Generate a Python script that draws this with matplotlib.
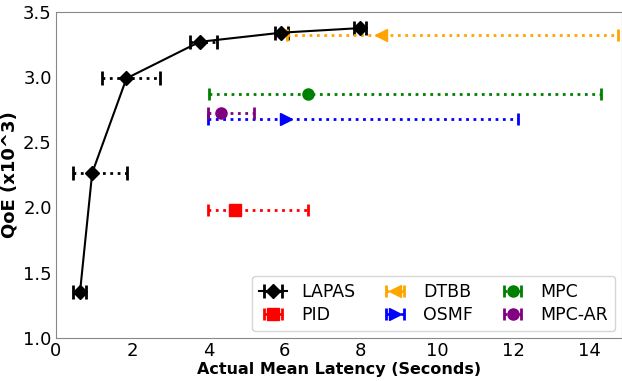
import matplotlib
matplotlib.use("Agg")
import matplotlib.pyplot as plt

lapas_x = [0.63, 0.95, 1.85, 3.77, 5.91, 7.97]
lapas_y = [1.35, 2.265, 2.99, 3.27, 3.34, 3.375]
lapas_lo = [0.45, 0.45, 1.21, 3.51, 5.75, 7.81]
lapas_hi = [0.79, 1.87, 2.74, 4.22, 6.09, 8.13]

others = ["PID", "DTBB", "OSMF", "MPC", "MPC-AR"]
others_x = [4.7, 8.52, 6.04, 6.6, 4.33]
others_y = [1.98, 3.32, 2.68, 2.87, 2.725]
others_lo = [4.0, 6.05, 4.0, 4.01, 4.0]
others_hi = [6.6, 14.75, 12.11, 14.3, 5.2]
colors = ["red", "orange", "blue", "green", "purple"]
markers = ["s", "<", ">", "o", "o"]

fig = plt.figure(figsize=(6.22, 3.81), dpi=100)
ax = fig.add_axes([0.09, 0.113, 0.91, 0.856])

handles = {}
xe = [[x - l for x, l in zip(lapas_x, lapas_lo)], [h - x for x, h in zip(lapas_x, lapas_hi)]]
eb = ax.errorbar(lapas_x, lapas_y, xerr=xe, color="black", marker="D", markersize=7,
                 capsize=5, capthick=2, elinewidth=2, linewidth=1.5, label="LAPAS")
eb[2][0].set_linestyle(":")
handles["LAPAS"] = eb

for name, x, y, lo, hi, c, m in zip(others, others_x, others_y, others_lo, others_hi, colors, markers):
    e = ax.errorbar([x], [y], xerr=[[x - lo], [hi - x]], color=c, marker=m, markersize=8,
                    capsize=4, capthick=2, elinewidth=2, linestyle="none", label=name)
    e[2][0].set_linestyle(":")
    handles[name] = e

ax.set_xlim(0, 14.85)
ax.set_ylim(1.0, 3.5)
ax.set_xticks([0, 2, 4, 6, 8, 10, 12, 14])
ax.set_yticks([1.0, 1.5, 2.0, 2.5, 3.0, 3.5])
ax.tick_params(labelsize=13, length=0, pad=3)
for s in ax.spines.values():
    s.set_color("#888888")
ax.set_xlabel("Actual Mean Latency (Seconds)", fontsize=11.5, fontweight="bold", labelpad=1)
ax.set_ylabel("QoE (x10^3)", fontsize=13, fontweight="bold", labelpad=3)

order = ["LAPAS", "PID", "DTBB", "OSMF", "MPC", "MPC-AR"]
ax.legend([handles[k] for k in order], order, ncol=3, loc="lower right", fontsize=12.5,
          handlelength=1.6, columnspacing=1.5, borderaxespad=0.4, labelspacing=0.3)

fig.savefig("out.png", dpi=100)
